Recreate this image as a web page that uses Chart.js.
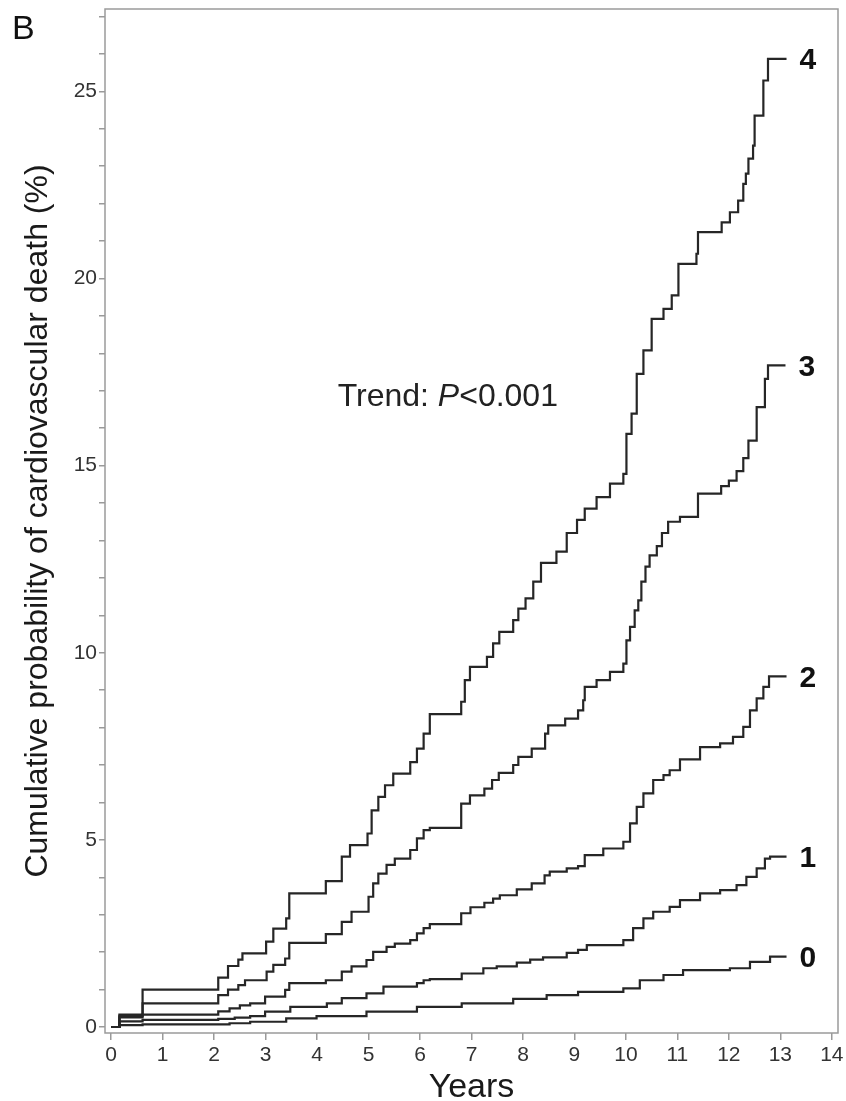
<!DOCTYPE html>
<html>
<head>
<meta charset="utf-8">
<title>Cumulative probability of cardiovascular death</title>
<script src="https://cdn.jsdelivr.net/npm/chart.js@4.4.1/dist/chart.umd.min.js"></script>
<style>
  html, body { margin: 0; padding: 0; background: #fff; }
  #wrap { width: 846px; height: 1101px; position: relative; }
</style>
</head>
<body>
<div id="wrap"><canvas id="kmChart"></canvas></div>
<script>
// group labels (number of risk factors) drawn at the end of each curve
const groupLabels = ['0', '1', '2', '3', '4'];

// Kaplan-Meier step points: time (years) and cumulative risk (%)
const yearsG0 = [0, 0.16, 0.61, 2.3, 2.7, 3.40, 3.99, 4.96, 5.94, 6.81, 7.81, 8.46, 9.07, 9.95, 10.27, 10.73, 11.11, 12.02, 12.41, 12.80, 13.12];
const riskG0  = [0, 0.05, 0.07, 0.10, 0.14, 0.23, 0.29, 0.41, 0.54, 0.63, 0.75, 0.85, 0.94, 1.03, 1.25, 1.39, 1.52, 1.57, 1.74, 1.88, 1.88];

const yearsG1 = [0, 0.16, 0.61, 2.08, 2.4, 2.7, 2.99, 3.48, 4.19, 4.48, 4.96, 5.29, 5.94, 6.07, 6.19, 6.81, 7.23, 7.49, 7.88, 8.14, 8.39, 8.85, 9.07, 9.24, 9.95, 10.14, 10.34, 10.53, 10.85, 11.05, 11.44, 11.83, 12.15, 12.34, 12.54, 12.70, 12.80, 13.12];
const riskG1  = [0, 0.15, 0.19, 0.22, 0.25, 0.29, 0.41, 0.54, 0.63, 0.77, 0.90, 1.08, 1.17, 1.25, 1.28, 1.43, 1.57, 1.62, 1.72, 1.80, 1.86, 1.98, 2.06, 2.19, 2.32, 2.64, 2.90, 3.08, 3.21, 3.39, 3.57, 3.66, 3.79, 4.01, 4.24, 4.50, 4.55, 4.55];

const yearsG2 = [0, 0.16, 0.61, 2.08, 2.3, 2.5, 2.7, 2.99, 3.38, 3.46, 4.17, 4.48, 4.67, 4.96, 5.09, 5.35, 5.51, 5.81, 5.94, 6.07, 6.19, 6.80, 6.98, 7.25, 7.42, 7.55, 7.88, 8.17, 8.42, 8.52, 8.85, 9.07, 9.20, 9.56, 9.95, 10.08, 10.21, 10.34, 10.53, 10.73, 10.85, 11.05, 11.44, 11.83, 12.08, 12.28, 12.41, 12.54, 12.67, 12.78, 13.12];
const riskG2  = [0, 0.26, 0.33, 0.42, 0.50, 0.58, 0.63, 0.81, 0.99, 1.17, 1.25, 1.48, 1.62, 1.79, 2.01, 2.14, 2.23, 2.32, 2.50, 2.64, 2.75, 3.04, 3.20, 3.32, 3.43, 3.52, 3.68, 3.84, 4.05, 4.15, 4.24, 4.30, 4.59, 4.77, 4.95, 5.44, 5.88, 6.24, 6.60, 6.73, 6.86, 7.15, 7.48, 7.58, 7.75, 8.02, 8.46, 8.78, 9.09, 9.37, 9.37];

const yearsG3 = [0, 0.16, 0.61, 2.08, 2.27, 2.47, 2.60, 3.02, 3.15, 3.38, 3.46, 4.17, 4.48, 4.67, 5.00, 5.09, 5.19, 5.35, 5.51, 5.81, 5.94, 6.07, 6.19, 6.80, 6.97, 7.25, 7.40, 7.53, 7.81, 7.91, 8.17, 8.43, 8.49, 8.82, 9.07, 9.17, 9.20, 9.43, 9.69, 9.95, 10.01, 10.08, 10.17, 10.24, 10.30, 10.38, 10.46, 10.60, 10.70, 10.82, 11.05, 11.40, 11.85, 12.00, 12.15, 12.28, 12.38, 12.54, 12.70, 12.76, 13.10];
const riskG3  = [0, 0.30, 0.63, 0.85, 1.00, 1.12, 1.25, 1.48, 1.66, 1.83, 2.25, 2.48, 2.81, 3.08, 3.48, 3.84, 4.10, 4.33, 4.50, 4.73, 5.04, 5.26, 5.32, 5.97, 6.19, 6.37, 6.60, 6.79, 7.00, 7.22, 7.44, 7.84, 8.06, 8.24, 8.46, 8.73, 9.09, 9.27, 9.49, 9.71, 10.33, 10.69, 11.13, 11.40, 11.90, 12.30, 12.60, 12.85, 13.20, 13.50, 13.63, 14.25, 14.45, 14.60, 14.85, 15.20, 15.67, 16.56, 17.32, 17.68, 17.68];

const yearsG4 = [0, 0.16, 0.61, 2.08, 2.27, 2.47, 2.55, 3.01, 3.15, 3.40, 3.46, 4.17, 4.48, 4.64, 4.98, 5.06, 5.19, 5.32, 5.48, 5.81, 5.94, 6.07, 6.19, 6.80, 6.87, 6.97, 7.30, 7.42, 7.54, 7.81, 7.91, 8.05, 8.20, 8.35, 8.65, 8.85, 9.05, 9.20, 9.43, 9.69, 9.95, 10.01, 10.11, 10.21, 10.34, 10.50, 10.73, 10.89, 11.02, 11.37, 11.40, 11.86, 12.02, 12.18, 12.28, 12.33, 12.38, 12.47, 12.50, 12.67, 12.76, 13.12];
const riskG4  = [0, 0.33, 1.00, 1.32, 1.63, 1.80, 1.97, 2.28, 2.63, 2.90, 3.57, 3.90, 4.55, 4.86, 5.17, 5.79, 6.15, 6.46, 6.77, 7.08, 7.44, 7.84, 8.36, 8.69, 9.27, 9.62, 9.89, 10.25, 10.56, 10.87, 11.18, 11.45, 11.90, 12.40, 12.70, 13.20, 13.55, 13.85, 14.16, 14.52, 14.78, 15.85, 16.39, 17.45, 18.08, 18.92, 19.19, 19.55, 20.39, 20.66, 21.24, 21.50, 21.77, 22.08, 22.53, 22.80, 23.20, 23.55, 24.35, 25.29, 25.87, 25.87];

// axis ticks
const xTickValues = [0, 1, 2, 3, 4, 5, 6, 7, 8, 9, 10, 11, 12, 13, 14];
const yLabelledTicks = [0, 5, 10, 15, 20, 25];

const FONT = '"Liberation Sans", Arial, Helvetica, sans-serif';

const series = [[yearsG0, riskG0], [yearsG1, riskG1], [yearsG2, riskG2], [yearsG3, riskG3], [yearsG4, riskG4]];
const datasets = series.map((s, i) => ({
    label: groupLabels[i],
    data: s[0].map((t, j) => ({ x: t, y: s[1][j] })),
    stepped: true,
    borderColor: '#262626',
    borderWidth: 2.2,
    pointRadius: 0,
    fill: false
}));

// frame, curve labels, trend text and panel letter
const extras = {
    id: 'extras',
    afterDraw(chart) {
        const { ctx, chartArea: a, scales: { x, y } } = chart;
        ctx.save();
        ctx.strokeStyle = '#9a9a9a';
        ctx.lineWidth = 1.5;
        ctx.strokeRect(a.left, a.top, a.right - a.left, a.bottom - a.top);

        ctx.fillStyle = '#111';
        ctx.textBaseline = 'middle';
        ctx.textAlign = 'left';
        ctx.font = 'bold 30px ' + FONT;
        chart.data.datasets.forEach(ds => {
            const last = ds.data[ds.data.length - 1];
            ctx.fillText(ds.label, x.getPixelForValue(last.x) + 13, y.getPixelForValue(last.y) + 2);
        });

        // Trend: P<0.001
        ctx.fillStyle = '#222';
        ctx.textBaseline = 'alphabetic';
        let tx = x.getPixelForValue(4.40);
        const ty = y.getPixelForValue(16.58);
        ctx.font = '32px ' + FONT;
        ctx.fillText('Trend: ', tx, ty);
        tx += ctx.measureText('Trend: ').width;
        ctx.font = 'italic 32px ' + FONT;
        ctx.fillText('P', tx, ty);
        tx += ctx.measureText('P').width;
        ctx.font = '32px ' + FONT;
        ctx.fillText('<0.001', tx, ty);

        ctx.fillStyle = '#111';
        ctx.font = '34px ' + FONT;
        ctx.fillText('B', 12, 39);
        ctx.restore();
    }
};

new Chart(document.getElementById('kmChart'), {
    type: 'line',
    data: { datasets },
    options: {
        responsive: true,
        maintainAspectRatio: false,
        animation: false,
        layout: { padding: { top: 9, right: 8, left: 0, bottom: 0 } },
        plugins: { legend: { display: false }, tooltip: { enabled: false } },
        scales: {
            x: {
                type: 'linear',
                min: -0.12,
                max: 14.12,
                afterBuildTicks: s => { s.ticks = xTickValues.map(v => ({ value: v })); },
                afterFit: s => { s.height = 68; s.paddingLeft = 0; s.paddingRight = 0; },
                ticks: { autoSkip: false, maxRotation: 0, color: '#333', padding: 3, font: { family: FONT, size: 21 } },
                grid: { drawOnChartArea: false, drawTicks: true, tickLength: 7, color: '#9a9a9a', lineWidth: 1.5 },
                border: { display: false },
                title: { display: true, text: 'Years', color: '#1a1a1a', padding: 0, font: { family: FONT, size: 34, lineHeight: 0.8 } }
            },
            y: {
                type: 'linear',
                min: -0.16,
                max: 27.2,
                afterBuildTicks: s => {
                    const t = [];
                    for (let v = 0; v <= 27; v++) t.push({ value: v });
                    s.ticks = t;
                },
                afterFit: s => { s.width = 105; s.paddingTop = 0; s.paddingBottom = 0; },
                ticks: {
                    autoSkip: false,
                    color: '#333',
                    padding: 2,
                    font: { family: FONT, size: 21 },
                    callback: v => (yLabelledTicks.includes(v) ? String(v) : '')
                },
                grid: { drawOnChartArea: false, drawTicks: true, tickLength: 6, color: '#9a9a9a', lineWidth: 1.5 },
                border: { display: false },
                title: {
                    display: true,
                    text: 'Cumulative probability of cardiovascular death (%)',
                    color: '#1a1a1a',
                    padding: { top: 19, bottom: 0 },
                    font: { family: FONT, size: 32 }
                }
            }
        }
    },
    plugins: [extras]
});
</script>
</body>
</html>
